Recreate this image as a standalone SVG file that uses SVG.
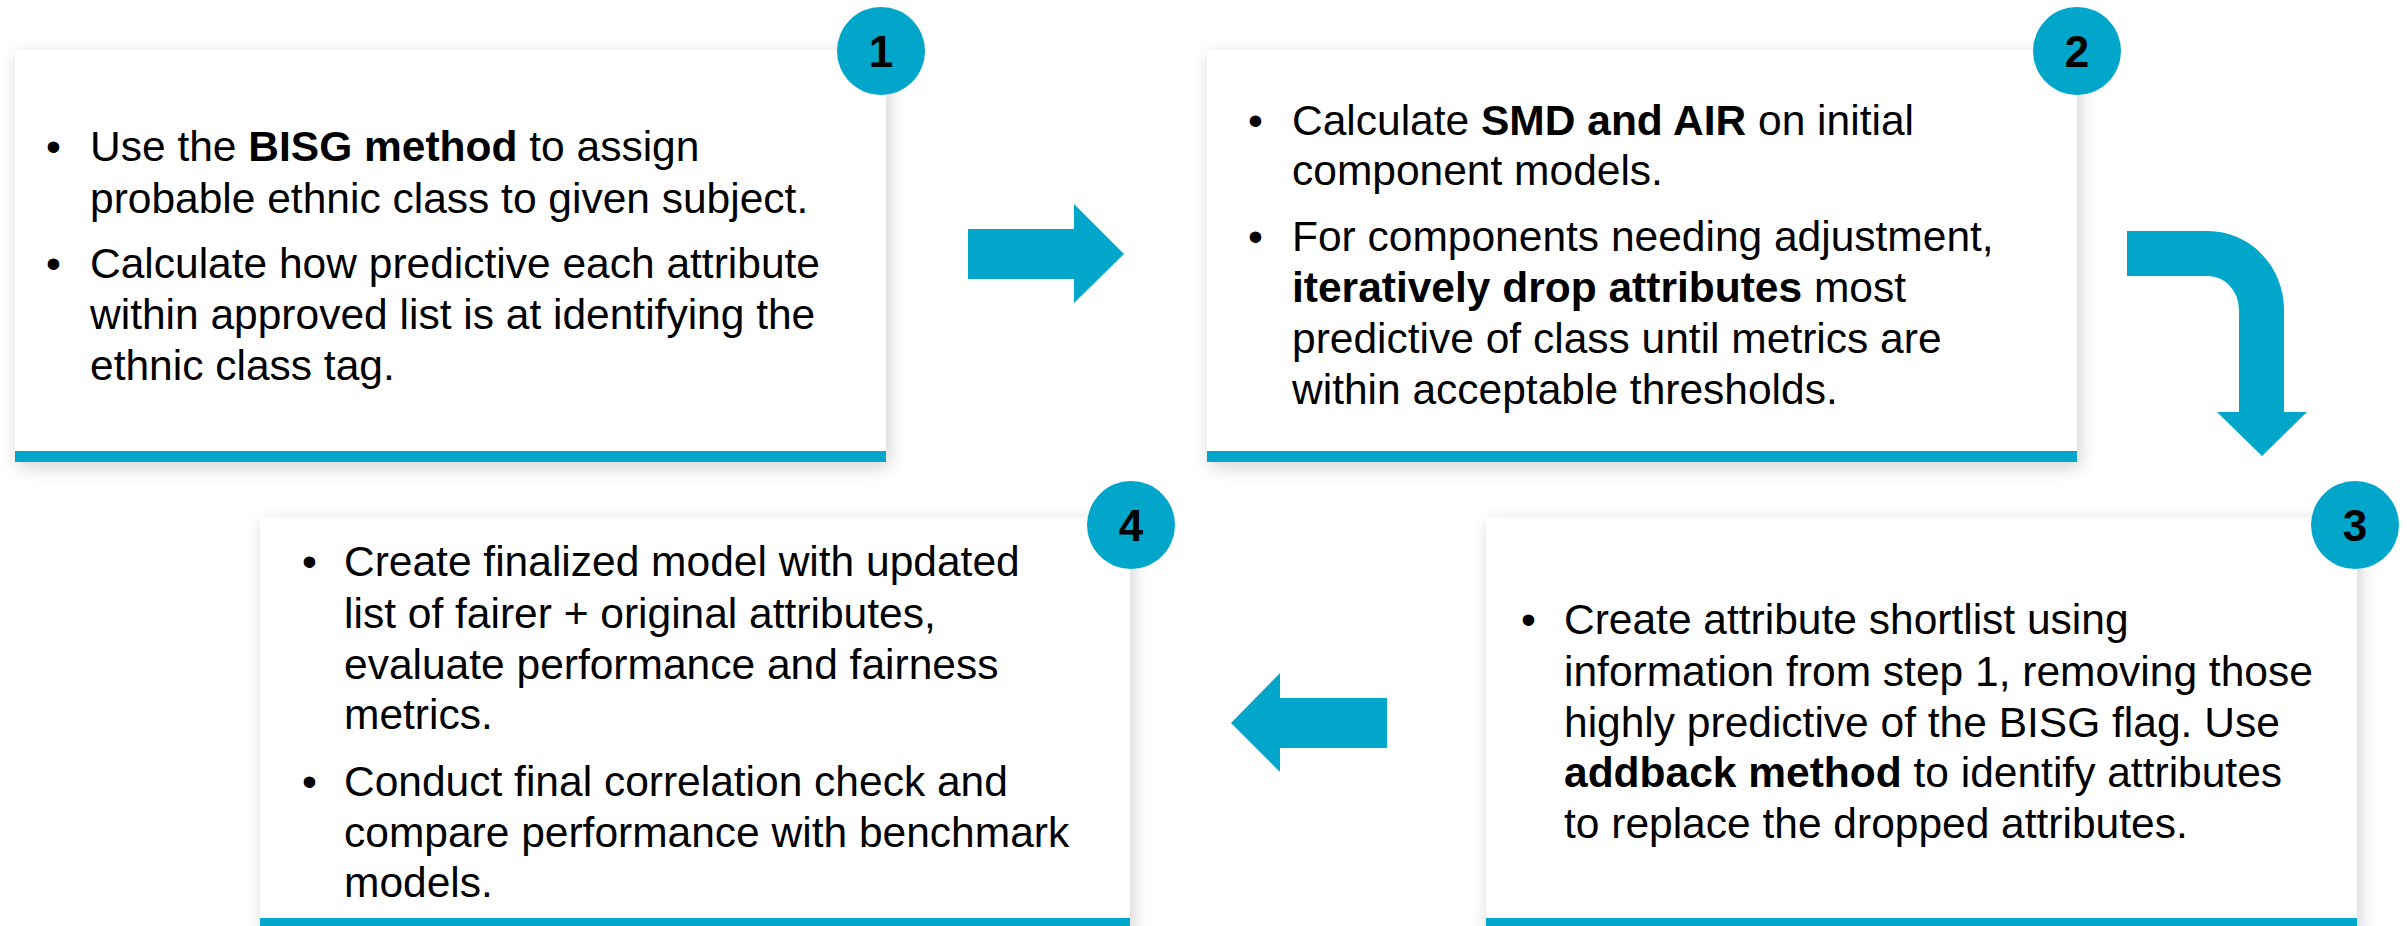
<svg xmlns="http://www.w3.org/2000/svg" width="2407" height="926" viewBox="0 0 2407 926">
  <defs>
    <filter id="shadow" x="-10%" y="-10%" width="120%" height="125%">
      <feDropShadow dx="3" dy="5" stdDeviation="9" flood-color="#000" flood-opacity="0.18"/>
    </filter>
    <style>
      .card { fill: #ffffff; filter: url(#shadow); }
      .bar { fill: #01A6CA; }
      .badge { fill: #01A6CA; }
      .num { font-family: "Liberation Sans", Arial, sans-serif; font-weight: bold; font-size: 44px; fill: #000; text-anchor: middle; }
      .txt { font-family: "Liberation Sans", Arial, sans-serif; font-size: 42.5px; fill: #000; }
      .b { font-weight: bold; }
      .arrow { fill: #01A6CA; }
    </style>
  </defs>
  <rect width="2407" height="926" fill="#ffffff"/>

  <g id="step1">
    <rect class="card" x="15" y="50" width="871" height="412"/>
    <rect class="bar" x="15" y="451" width="871" height="11"/>
    <circle class="badge" cx="881" cy="51" r="44"/>
    <text class="num" x="881" y="67">1</text>
    <text class="txt">
      <tspan x="46" y="161">•</tspan>
      <tspan x="90" y="161">Use the <tspan class="b">BISG method</tspan> to assign</tspan>
      <tspan x="90" y="213">probable ethnic class to given subject.</tspan>
      <tspan x="46" y="278">•</tspan>
      <tspan x="90" y="278">Calculate how predictive each attribute</tspan>
      <tspan x="90" y="329">within approved list is at identifying the</tspan>
      <tspan x="90" y="380">ethnic class tag.</tspan>
    </text>
  </g>

  <g id="step2">
    <rect class="card" x="1207" y="50" width="870" height="412"/>
    <rect class="bar" x="1207" y="451" width="870" height="11"/>
    <circle class="badge" cx="2077" cy="51" r="44"/>
    <text class="num" x="2077" y="67">2</text>
    <text class="txt">
      <tspan x="1248" y="135">•</tspan>
      <tspan x="1292" y="135">Calculate <tspan class="b">SMD and AIR</tspan> on initial</tspan>
      <tspan x="1292" y="185">component models.</tspan>
      <tspan x="1248" y="251">•</tspan>
      <tspan x="1292" y="251">For components needing adjustment,</tspan>
      <tspan x="1292" y="302"><tspan class="b">iteratively drop attributes</tspan> most</tspan>
      <tspan x="1292" y="353">predictive of class until metrics are</tspan>
      <tspan x="1292" y="404">within acceptable thresholds.</tspan>
    </text>
  </g>

  <g id="step3">
    <rect class="card" x="1486" y="517" width="871" height="420"/>
    <rect class="bar" x="1486" y="918" width="871" height="11"/>
    <circle class="badge" cx="2355" cy="525" r="44"/>
    <text class="num" x="2355" y="541">3</text>
    <text class="txt">
      <tspan x="1521" y="634">•</tspan>
      <tspan x="1564" y="634">Create attribute shortlist using</tspan>
      <tspan x="1564" y="686">information from step 1, removing those</tspan>
      <tspan x="1564" y="737">highly predictive of the BISG flag. Use</tspan>
      <tspan x="1564" y="787"><tspan class="b">addback method</tspan> to identify attributes</tspan>
      <tspan x="1564" y="838">to replace the dropped attributes.</tspan>
    </text>
  </g>

  <g id="step4">
    <rect class="card" x="260" y="517" width="870" height="420"/>
    <rect class="bar" x="260" y="918" width="870" height="11"/>
    <circle class="badge" cx="1131" cy="525" r="44"/>
    <text class="num" x="1131" y="541">4</text>
    <text class="txt">
      <tspan x="302" y="576">•</tspan>
      <tspan x="344" y="576">Create finalized model with updated</tspan>
      <tspan x="344" y="628">list of fairer + original attributes,</tspan>
      <tspan x="344" y="679">evaluate performance and fairness</tspan>
      <tspan x="344" y="729">metrics.</tspan>
      <tspan x="302" y="796">•</tspan>
      <tspan x="344" y="796">Conduct final correlation check and</tspan>
      <tspan x="344" y="847">compare performance with benchmark</tspan>
      <tspan x="344" y="897">models.</tspan>
    </text>
  </g>

  <g id="connectors">
    <path class="arrow" d="M968,229 H1074 V204 L1124,254 L1074,303 V279 H968 Z"/>
    <path class="arrow" d="M2127,231 H2208 A76,79 0 0 1 2284,310 V412 H2307 L2262,456 L2217,412 H2239 V310 A31,34 0 0 0 2208,276 H2127 Z"/>
    <path class="arrow" d="M1231,723 L1280,673 V698 H1387 V748 H1280 V772 Z"/>
  </g>
</svg>
